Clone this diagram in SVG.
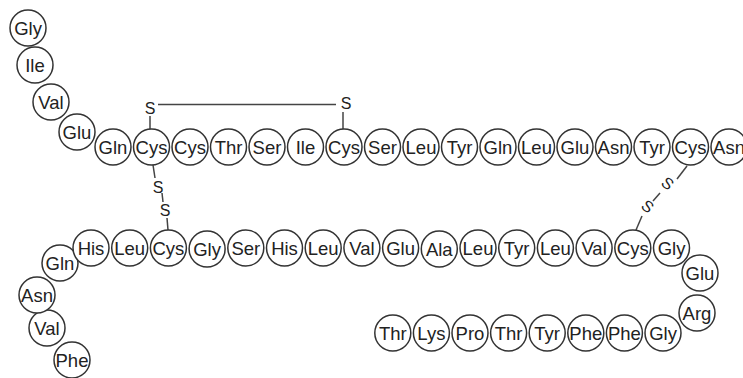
<svg xmlns="http://www.w3.org/2000/svg" width="743" height="378" viewBox="0 0 743 378">
<style>
circle{fill:#fff;stroke:#333;stroke-width:1.5}
text{font-family:"Liberation Sans",Arial,sans-serif;font-size:18.5px;fill:#222;text-anchor:middle}
.s{font-size:16px}
line{stroke:#444;stroke-width:1.5}
</style>
<rect width="743" height="378" fill="#fff"/>
<g id="connectors">
<line x1="158" y1="104.5" x2="336" y2="104.5"/>
<line x1="150" y1="116" x2="150" y2="129"/>
<line x1="343" y1="112" x2="343" y2="129"/>
<line x1="153" y1="165" x2="155" y2="178"/>
<line x1="162" y1="193" x2="163" y2="202"/>
<line x1="167" y1="218" x2="168" y2="230"/>
<line x1="687" y1="166" x2="677" y2="179"/>
<line x1="660" y1="193" x2="653" y2="201"/>
<line x1="642" y1="216" x2="636" y2="230"/>
<text class="s" x="150" y="114">S</text>
<text class="s" x="346" y="109">S</text>
<text class="s" x="158" y="193">S</text>
<text class="s" x="165" y="216">S</text>
<text class="s" transform="translate(668 183) rotate(40)" y="6">S</text>
<text class="s" transform="translate(648 206) rotate(40)" y="6">S</text>
</g>
<g id="a1"><circle cx="28" cy="28" r="18"/><text x="28" y="34.5">Gly</text></g>
<g id="a2"><circle cx="35" cy="65" r="18"/><text x="35" y="71.5">Ile</text></g>
<g id="a3"><circle cx="51" cy="102" r="18"/><text x="51" y="108.5">Val</text></g>
<g id="a4"><circle cx="77" cy="132" r="18"/><text x="77" y="138.5">Glu</text></g>
<g id="a5"><circle cx="113" cy="147" r="18"/><text x="113" y="153.5">Gln</text></g>
<g id="a6"><circle cx="151.5" cy="147" r="18"/><text x="151.5" y="153.5">Cys</text></g>
<g id="a7"><circle cx="190" cy="147" r="18"/><text x="190" y="153.5">Cys</text></g>
<g id="a8"><circle cx="228.5" cy="147" r="18"/><text x="228.5" y="153.5">Thr</text></g>
<g id="a9"><circle cx="267" cy="147" r="18"/><text x="267" y="153.5">Ser</text></g>
<g id="a10"><circle cx="305.5" cy="147" r="18"/><text x="305.5" y="153.5">Ile</text></g>
<g id="a11"><circle cx="344" cy="147" r="18"/><text x="344" y="153.5">Cys</text></g>
<g id="a12"><circle cx="382.5" cy="147" r="18"/><text x="382.5" y="153.5">Ser</text></g>
<g id="a13"><circle cx="421" cy="147" r="18"/><text x="421" y="153.5">Leu</text></g>
<g id="a14"><circle cx="459.5" cy="147" r="18"/><text x="459.5" y="153.5">Tyr</text></g>
<g id="a15"><circle cx="498" cy="147" r="18"/><text x="498" y="153.5">Gln</text></g>
<g id="a16"><circle cx="536.5" cy="147" r="18"/><text x="536.5" y="153.5">Leu</text></g>
<g id="a17"><circle cx="575" cy="147" r="18"/><text x="575" y="153.5">Glu</text></g>
<g id="a18"><circle cx="613.5" cy="147" r="18"/><text x="613.5" y="153.5">Asn</text></g>
<g id="a19"><circle cx="652" cy="147" r="18"/><text x="652" y="153.5">Tyr</text></g>
<g id="a20"><circle cx="690.5" cy="147" r="18"/><text x="690.5" y="153.5">Cys</text></g>
<g id="a21"><circle cx="729" cy="147" r="18"/><text x="729" y="153.5">Asn</text></g>
<g id="b1"><circle cx="72" cy="360" r="18"/><text x="72" y="366.5">Phe</text></g>
<g id="b2"><circle cx="47" cy="328" r="18"/><text x="47" y="334.5">Val</text></g>
<g id="b3"><circle cx="37" cy="295" r="18"/><text x="37" y="301.5">Asn</text></g>
<g id="b4"><circle cx="60" cy="263" r="18"/><text x="60" y="269.5">Gln</text></g>
<g id="b5"><circle cx="91" cy="248" r="18"/><text x="91" y="254.5">His</text></g>
<g id="b6"><circle cx="129.7" cy="248" r="18"/><text x="129.7" y="254.5">Leu</text></g>
<g id="b7"><circle cx="168.4" cy="248" r="18"/><text x="168.4" y="254.5">Cys</text></g>
<g id="b8"><circle cx="207.1" cy="249" r="18"/><text x="207.1" y="255.5">Gly</text></g>
<g id="b9"><circle cx="245.8" cy="248" r="18"/><text x="245.8" y="254.5">Ser</text></g>
<g id="b10"><circle cx="284.5" cy="248" r="18"/><text x="284.5" y="254.5">His</text></g>
<g id="b11"><circle cx="323.2" cy="248" r="18"/><text x="323.2" y="254.5">Leu</text></g>
<g id="b12"><circle cx="361.9" cy="248" r="18"/><text x="361.9" y="254.5">Val</text></g>
<g id="b13"><circle cx="400.6" cy="248" r="18"/><text x="400.6" y="254.5">Glu</text></g>
<g id="b14"><circle cx="439.3" cy="249" r="18"/><text x="439.3" y="255.5">Ala</text></g>
<g id="b15"><circle cx="478" cy="248" r="18"/><text x="478" y="254.5">Leu</text></g>
<g id="b16"><circle cx="516.7" cy="248" r="18"/><text x="516.7" y="254.5">Tyr</text></g>
<g id="b17"><circle cx="555.4" cy="248" r="18"/><text x="555.4" y="254.5">Leu</text></g>
<g id="b18"><circle cx="594.1" cy="248" r="18"/><text x="594.1" y="254.5">Val</text></g>
<g id="b19"><circle cx="632.8" cy="248" r="18"/><text x="632.8" y="254.5">Cys</text></g>
<g id="b20"><circle cx="671.5" cy="248" r="18"/><text x="671.5" y="254.5">Gly</text></g>
<g id="b21"><circle cx="700" cy="273" r="18"/><text x="700" y="279.5">Glu</text></g>
<g id="b22"><circle cx="697" cy="313" r="18"/><text x="697" y="319.5">Arg</text></g>
<g id="b23"><circle cx="663" cy="333" r="18"/><text x="663" y="339.5">Gly</text></g>
<g id="b24"><circle cx="624.4" cy="333" r="18"/><text x="624.4" y="339.5">Phe</text></g>
<g id="b25"><circle cx="585.8" cy="333" r="18"/><text x="585.8" y="339.5">Phe</text></g>
<g id="b26"><circle cx="547.2" cy="333" r="18"/><text x="547.2" y="339.5">Tyr</text></g>
<g id="b27"><circle cx="508.6" cy="333" r="18"/><text x="508.6" y="339.5">Thr</text></g>
<g id="b28"><circle cx="470" cy="333" r="18"/><text x="470" y="339.5">Pro</text></g>
<g id="b29"><circle cx="431.4" cy="333" r="18"/><text x="431.4" y="339.5">Lys</text></g>
<g id="b30"><circle cx="392.8" cy="333" r="18"/><text x="392.8" y="339.5">Thr</text></g>
</svg>
